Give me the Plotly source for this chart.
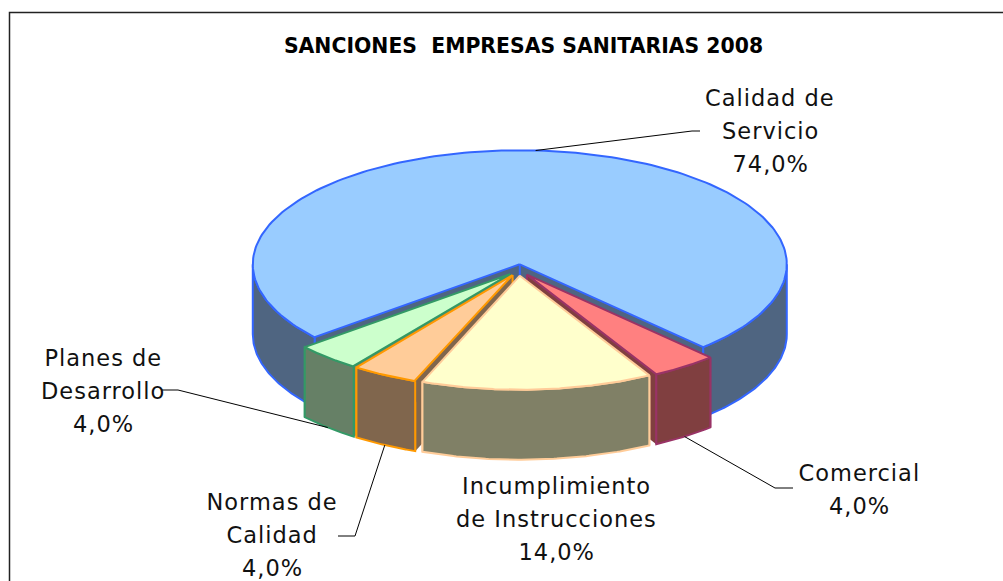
import math
import numpy as np
import plotly.graph_objects as go

# ---- data ----
categories = ["Calidad de<br>Servicio", "Comercial", "Incumplimiento<br>de Instrucciones",
              "Normas de<br>Calidad", "Planes de<br>Desarrollo"]
values = [74.0, 4.0, 14.0, 4.0, 4.0]
title_text = "SANCIONES  EMPRESAS SANITARIAS 2008"

# ---- style ----
top_colors = ["#99CCFF", "#FF8080", "#FFFFCC", "#FFCC99", "#CCFFCC"]
side_colors = ["#4F6581", "#803F40", "#808066", "#80664D", "#668066"]
line_colors = ["#3366FF", "#993366", "#FFCC99", "#FF9900", "#339966"]
draw_order = [0, 4, 1, 3, 2]

# ---- pseudo-3D pie geometry (pixel-based axes) ----
W, H = 1003, 581
CX, CY = 519.0, 270.0
RX, RY = 267.0, 114.0
DEPTH = 70.0
EXPLODE = 0.05
START_DEG = 140.2

total = sum(values)
bounds = [START_DEG]
for v in values:
    bounds.append(bounds[-1] + 360.0 * v / total)


def wedge_geom(i):
    a0, a1 = bounds[i], bounds[i + 1]
    mid = math.radians((a0 + a1) / 2)
    ox = CX + EXPLODE * RX * math.cos(mid)
    oy = CY + EXPLODE * RY * math.sin(mid)
    return a0, a1, ox, oy


def rim_pt(ox, oy, deg, dz=0.0):
    r = math.radians(deg)
    return ox + RX * math.cos(r), oy + RY * math.sin(r) + dz


fig = go.Figure()


def poly(xs, ys, fill, line, width=2):
    fig.add_trace(go.Scatter(x=list(xs), y=list(ys), mode="lines", fill="toself",
                             fillcolor=fill, line=dict(color=line, width=width),
                             hoverinfo="skip", showlegend=False))


def edge(xs, ys, color, width=2):
    fig.add_trace(go.Scatter(x=list(xs), y=list(ys), mode="lines",
                             line=dict(color=color, width=width),
                             hoverinfo="skip", showlegend=False))


for i in draw_order:
    a0, a1, ox, oy = wedge_geom(i)
    # cut faces: filled without outline, only the vertical edges are stroked
    for a in (a0, a1):
        ex, ey = rim_pt(ox, oy, a)
        poly([ox, ex, ex, ox, ox], [oy, ey, ey + DEPTH, oy + DEPTH, oy],
             side_colors[i], side_colors[i], width=0)
        edge([ex, ex], [ey, ey + DEPTH], line_colors[i])
    edge([ox, ox], [oy, oy + DEPTH], line_colors[i])
    # outer rim: only the parts facing the viewer
    for k in range(-1, 3):
        lo = max(a0, 360.0 * k)
        hi = min(a1, 360.0 * k + 180.0)
        if hi <= lo:
            continue
        degs = np.linspace(lo, hi, 80)
        top = [rim_pt(ox, oy, d) for d in degs]
        bot = [rim_pt(ox, oy, d, DEPTH) for d in degs[::-1]]
        pts = top + bot + [top[0]]
        poly([p[0] for p in pts], [p[1] for p in pts], side_colors[i], line_colors[i])
    # top face
    degs = np.linspace(a0, a1, 200)
    arc = [rim_pt(ox, oy, d) for d in degs]
    poly([ox] + [p[0] for p in arc] + [ox], [oy] + [p[1] for p in arc] + [oy],
         top_colors[i], line_colors[i])

# ---- leader lines: start on the wedge rim, elbows are layout choices ----
leader_elbows = {
    0: ([(692, 131), (700, 131)], 0.0),
    1: ([(775, 488), (793, 488)], DEPTH),
    3: ([(355, 536), (338, 536)], DEPTH),
    4: ([(178, 390), (162, 390)], DEPTH),
}
for i, (elbows, dz) in leader_elbows.items():
    a0, a1, ox, oy = wedge_geom(i)
    sx, sy = rim_pt(ox, oy, (a0 + a1) / 2, dz)
    fig.add_trace(go.Scatter(x=[sx] + [p[0] for p in elbows], y=[sy] + [p[1] for p in elbows],
                             mode="lines", line=dict(color="#000000", width=1),
                             hoverinfo="skip", showlegend=False))

# ---- labels ----
label_anchor = [(770, 98), (859, 473), (556, 486), (272, 502), (103, 358)]
LINE_STEP = 33
LABEL_FONT = dict(family="DejaVu Sans", size=22.5, color="#111111")
annotations = []
for name, v, (lx, ly) in zip(categories, values, label_anchor):
    lines = name.split("<br>") + [f"{v:.1f}".replace(".", ",") + "%"]
    for n, t in enumerate(lines):
        annotations.append(dict(x=lx, y=ly + n * LINE_STEP, text=t, showarrow=False,
                                xref="x", yref="y", xanchor="center", yanchor="middle",
                                font=LABEL_FONT))

fig.update_layout(
    width=W, height=H, margin=dict(l=0, r=0, t=0, b=0),
    paper_bgcolor="white", plot_bgcolor="white", showlegend=False,
    xaxis=dict(visible=False, range=[0, W], fixedrange=True),
    yaxis=dict(visible=False, range=[H, 0], fixedrange=True),
    title=dict(text=f"<b>{title_text}</b>", x=523.5 / W, y=1 - 46 / H, xref="paper", yref="paper",
               xanchor="center", yanchor="middle",
               font=dict(family="DejaVu Sans", size=20.4, color="#000000")),
    annotations=annotations,
    shapes=[dict(type="rect", xref="x", yref="y", x0=9.5, y0=12.5, x1=W + 20, y1=H + 20,
                 line=dict(color="#222222", width=1.5), fillcolor="rgba(0,0,0,0)", layer="below")],
)

fig.write_html(
    "out.html",
    config={"displayModeBar": False},
    post_script="document.body.style.margin='0';"
                "document.querySelectorAll('.annotation-text').forEach(function(t){t.style.letterSpacing='1px';});",
)
